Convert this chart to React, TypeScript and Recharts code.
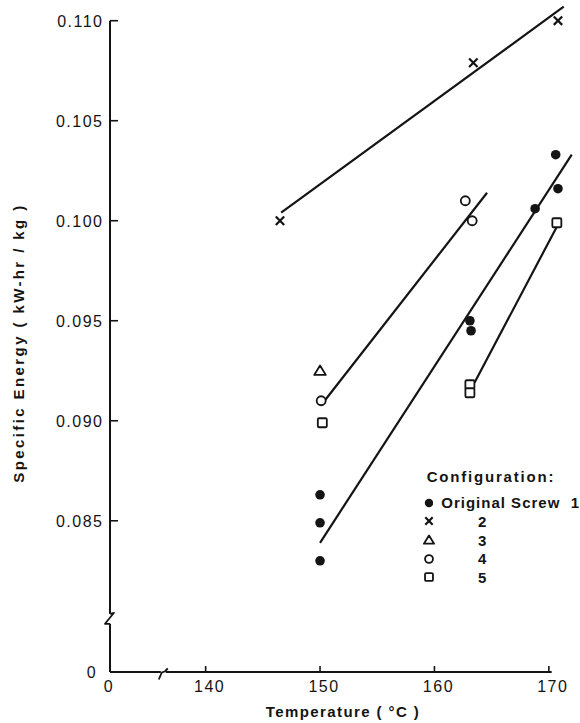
import React from 'react';
import {
  ComposedChart,
  Scatter,
  Line,
  XAxis,
  YAxis,
  ReferenceLine,
  ReferenceDot,
  Legend,
} from 'recharts';

const INK = '#141414';
const FONT = '"Liberation Sans", Arial, sans-serif';

// Both axes are broken: the first tick stands for 0
const X_ORIGIN = 131.64;
const X_MAX = 172.2;
const X_AXIS_END = 170.25;
const X_BREAK = 136.3;
const Y_ORIGIN = 0.07744;
const Y_MAX = 0.1108;
const Y_AXIS_TOP = 0.11;
const Y_BREAK = 0.0801;

const X_TICKS = [X_ORIGIN, 140, 150, 160, 170];
const Y_TICKS = [Y_ORIGIN, 0.085, 0.09, 0.095, 0.1, 0.105, 0.11];

// measured points, temperature (°C) vs specific energy (kW-hr/kg)
const SCREW_1 = [
  { x: 150, y: 0.0863 },
  { x: 150, y: 0.0849 },
  { x: 150, y: 0.083 },
  { x: 163.1, y: 0.095 },
  { x: 163.2, y: 0.0945 },
  { x: 168.8, y: 0.1006 },
  { x: 170.6, y: 0.1033 },
  { x: 170.8, y: 0.1016 },
];
const SCREW_2 = [
  { x: 146.5, y: 0.1 },
  { x: 163.4, y: 0.1079 },
  { x: 170.8, y: 0.11 },
];
const SCREW_3 = [{ x: 150, y: 0.0925 }];
const SCREW_4 = [
  { x: 150.1, y: 0.091 },
  { x: 162.7, y: 0.101 },
  { x: 163.3, y: 0.1 },
];
const SCREW_5 = [
  { x: 150.2, y: 0.0899 },
  { x: 163.1, y: 0.0918 },
  { x: 163.1, y: 0.0914 },
  { x: 170.7, y: 0.0999 },
];

// hand-fitted trend lines
const FIT_1 = [
  { x: 150, y: 0.0839 },
  { x: 172, y: 0.1033 },
];
const FIT_2 = [
  { x: 146.6, y: 0.1004 },
  { x: 171.3, y: 0.1107 },
];
const FIT_4 = [
  { x: 150.4, y: 0.091 },
  { x: 164.6, y: 0.1014 },
];
const FIT_5 = [
  { x: 163.5, y: 0.0919 },
  { x: 170.7, y: 0.0997 },
];

type Kind = 'dot' | 'cross' | 'triangle' | 'circle' | 'square';

const CONFIGS: { name: string; kind: Kind; data: { x: number; y: number }[] }[] = [
  { name: 'Original Screw  1', kind: 'dot', data: SCREW_1 },
  { name: '2', kind: 'cross', data: SCREW_2 },
  { name: '3', kind: 'triangle', data: SCREW_3 },
  { name: '4', kind: 'circle', data: SCREW_4 },
  { name: '5', kind: 'square', data: SCREW_5 },
];
const FITS = [FIT_1, FIT_2, FIT_4, FIT_5];

function marker(kind: Kind, cx: number, cy: number, s = 1) {
  switch (kind) {
    case 'dot':
      return <circle cx={cx} cy={cy} r={4.8 * s} fill={INK} />;
    case 'cross': {
      const d = 4.2 * s;
      return (
        <path
          d={`M${cx - d},${cy - d}L${cx + d},${cy + d}M${cx - d},${cy + d}L${cx + d},${cy - d}`}
          stroke={INK}
          strokeWidth={2.2}
        />
      );
    }
    case 'triangle':
      return (
        <path
          d={`M${cx},${cy - 5.2 * s}L${cx + 5.8 * s},${cy + 4.2 * s}L${cx - 5.8 * s},${cy + 4.2 * s}Z`}
          fill="#fff"
          stroke={INK}
          strokeWidth={1.8}
          strokeLinejoin="round"
        />
      );
    case 'circle':
      return <circle cx={cx} cy={cy} r={4.5 * s} fill="#fff" stroke={INK} strokeWidth={1.8} />;
    case 'square':
      return (
        <rect
          x={cx - 4.5 * s}
          y={cy - 4.5 * s}
          width={9 * s}
          height={9 * s}
          rx={1.3}
          fill="#fff"
          stroke={INK}
          strokeWidth={1.8}
        />
      );
  }
}

const tickText = { fontFamily: FONT, fontSize: 16, fill: INK, letterSpacing: 1.5 };

function XTick(props: any) {
  const { x, y, payload } = props;
  const origin = payload.value === X_ORIGIN;
  return (
    <g>
      {!origin && <line x1={x} x2={x} y1={y} y2={y - 6} stroke={INK} strokeWidth={1.6} />}
      <text x={origin ? x - 1 : x + 4} y={y + 20} textAnchor="middle" {...tickText}>
        {origin ? '0' : payload.value}
      </text>
    </g>
  );
}

function YTick(props: any) {
  const { x, y, payload } = props;
  const origin = payload.value === Y_ORIGIN;
  if (origin) {
    return (
      <text x={x - 18} y={y + 6} textAnchor="middle" {...tickText}>
        0
      </text>
    );
  }
  return (
    <g>
      <line x1={x} x2={x + 8} y1={y} y2={y} stroke={INK} strokeWidth={1.6} />
      <text x={x - 6.5} y={y + 6} textAnchor="end" {...tickText}>
        {payload.value.toFixed(3)}
      </text>
    </g>
  );
}

// little zigzags where the axes are cut
function XBreak(props: any) {
  const { cx, cy } = props;
  return (
    <g>
      <rect x={cx - 2.5} y={cy - 2} width={5} height={4} fill="#fff" />
      <path
        d={`M${cx - 4.5},${cy + 7.5}L${cx - 1.5},${cy + 0.5}L${cx + 1.5},${cy - 0.5}L${cx + 4.5},${cy - 3.5}`}
        fill="none"
        stroke={INK}
        strokeWidth={1.8}
      />
    </g>
  );
}

function YBreak(props: any) {
  const { cx, cy } = props;
  return (
    <g>
      <rect x={cx - 2} y={cy - 5} width={4} height={10} fill="#fff" />
      <path
        d={`M${cx},${cy - 5}L${cx + 4},${cy - 6}L${cx - 5},${cy + 5}L${cx},${cy + 5}`}
        fill="none"
        stroke={INK}
        strokeWidth={1.8}
        strokeLinejoin="round"
      />
    </g>
  );
}

const ConfigLegend = () => (
  <div style={{ fontFamily: FONT, fontWeight: 700, fontSize: 15, letterSpacing: 1, color: INK }}>
    <div
      style={{
        height: 21,
        lineHeight: '21px',
        marginBottom: 6.3,
        paddingLeft: 6.7,
        letterSpacing: 1.8,
      }}
    >
      Configuration:
    </div>
    {CONFIGS.map((c, i) => (
      <div key={c.name} style={{ display: 'flex', alignItems: 'center', height: 18.7 }}>
        <svg width={18} height={18}>
          {marker(c.kind, 9, 9, 0.88)}
        </svg>
        <span
          style={{
            marginLeft: 8.7,
            width: i === 0 ? 'auto' : 72,
            textAlign: i === 0 ? 'left' : 'center',
            whiteSpace: 'pre',
          }}
        >
          {c.name}
        </span>
      </div>
    ))}
  </div>
);

export default function App() {
  return (
    <>
      <style>{'body { margin: 0; background: #fff; }'}</style>
      <ComposedChart width={580} height={723} margin={{ top: 4.7, right: 6, bottom: 0, left: 0 }}>
        <XAxis
          type="number"
          dataKey="x"
          domain={[X_ORIGIN, X_MAX]}
          ticks={X_TICKS}
          interval={0}
          height={51}
          axisLine={false}
          tickLine={false}
          tickSize={0}
          tickMargin={0}
          tick={<XTick />}
          label={{
            content: ({ viewBox }: any) => (
              <text
                x={viewBox.x + viewBox.width / 2 + 1}
                y={viewBox.y + 45}
                textAnchor="middle"
                fontFamily={FONT}
                fontWeight={700}
                fontSize={15}
                letterSpacing={1.4}
                fill={INK}
              >
                Temperature ( °C )
              </text>
            ),
          }}
        />
        <YAxis
          type="number"
          dataKey="y"
          domain={[Y_ORIGIN, Y_MAX]}
          ticks={Y_TICKS}
          interval={0}
          width={110}
          axisLine={false}
          tickLine={false}
          tickSize={0}
          tickMargin={0}
          tick={<YTick />}
          label={{
            content: ({ viewBox }: any) => {
              const cx = viewBox.x + 18;
              const cy = viewBox.y + viewBox.height / 2 + 4.7;
              return (
                <text
                  transform={`translate(${cx},${cy}) rotate(-90)`}
                  textAnchor="middle"
                  dominantBaseline="central"
                  fontFamily={FONT}
                  fontWeight={700}
                  fontSize={15}
                  letterSpacing={2.4}
                  fill={INK}
                >
                  Specific Energy ( kW-hr / kg )
                </text>
              );
            },
          }}
        />

        <ReferenceLine
          segment={[
            { x: X_ORIGIN, y: Y_ORIGIN },
            { x: X_AXIS_END, y: Y_ORIGIN },
          ]}
          stroke={INK}
          strokeWidth={2}
          ifOverflow="visible"
        />
        <ReferenceLine
          segment={[
            { x: X_ORIGIN, y: Y_ORIGIN },
            { x: X_ORIGIN, y: Y_AXIS_TOP },
          ]}
          stroke={INK}
          strokeWidth={2}
          ifOverflow="visible"
        />
        <ReferenceDot x={X_BREAK} y={Y_ORIGIN} ifOverflow="visible" shape={<XBreak />} />
        <ReferenceDot x={X_ORIGIN} y={Y_BREAK} ifOverflow="visible" shape={<YBreak />} />

        {FITS.map((fit, i) => (
          <Line
            key={i}
            data={fit}
            dataKey="y"
            type="linear"
            stroke={INK}
            strokeWidth={2.2}
            dot={false}
            activeDot={false}
            legendType="none"
            isAnimationActive={false}
          />
        ))}
        {CONFIGS.map((c) => (
          <Scatter
            key={c.name}
            name={c.name}
            data={c.data}
            dataKey="y"
            shape={(p: any) => marker(c.kind, p.cx, p.cy)}
            isAnimationActive={false}
          />
        ))}

        <Legend
          layout="vertical"
          align="center"
          verticalAlign="middle"
          content={<ConfigLegend />}
          wrapperStyle={{ left: 420, top: 466, width: 160, height: 'auto' }}
        />
      </ComposedChart>
    </>
  );
}
